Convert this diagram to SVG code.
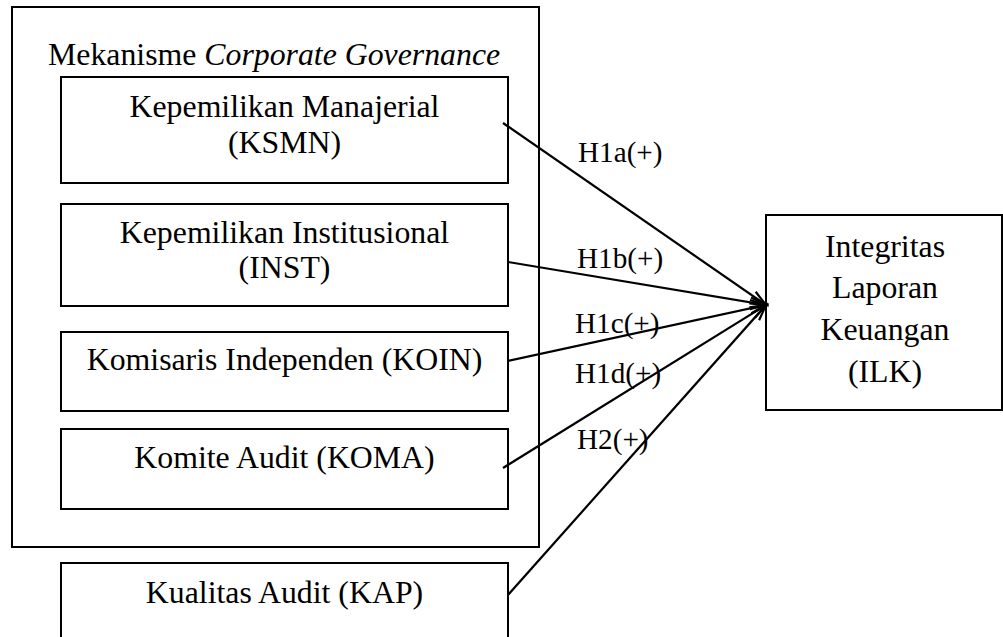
<svg xmlns="http://www.w3.org/2000/svg" width="1003" height="637" viewBox="0 0 1003 637">
<style>
.box{fill:none;stroke:#000;stroke-width:2}
.t{font-family:"Liberation Serif","Times New Roman",serif;font-size:31.8px;fill:#000}
.c{text-anchor:middle}
.lbl{font-family:"Liberation Serif","Times New Roman",serif;font-size:29.2px;fill:#000}
.con{stroke:#000;stroke-width:2.2;fill:none;marker-end:url(#ah)}
</style>
<defs>
<marker id="ah" markerUnits="userSpaceOnUse" markerWidth="20" markerHeight="14" refX="17" refY="6" orient="auto" viewBox="0 0 20 12">
<path d="M1,1 L17,6 L1,11" fill="none" stroke="#000" stroke-width="2.2"/>
</marker>
</defs>
<rect width="1003" height="637" fill="#fff"/>
<g id="mekanisme">
<rect class="box" x="12" y="7" width="527" height="540"/>
<text class="t" x="48" y="65">Mekanisme <tspan font-style="italic">Corporate Governance</tspan></text>
</g>
<g id="ksmn">
<rect class="box" x="61" y="77" width="447" height="106"/>
<text class="t c" x="284.5" y="117">Kepemilikan Manajerial</text>
<text class="t c" x="284.5" y="153">(KSMN)</text>
</g>
<g id="inst">
<rect class="box" x="61" y="204" width="447" height="102"/>
<text class="t c" x="284.5" y="243">Kepemilikan Institusional</text>
<text class="t c" x="284.5" y="278">(INST)</text>
</g>
<g id="koin">
<rect class="box" x="61" y="332" width="447" height="79"/>
<text class="t c" x="284.5" y="370">Komisaris Independen (KOIN)</text>
</g>
<g id="koma">
<rect class="box" x="61" y="429" width="447" height="80"/>
<text class="t c" x="284.5" y="468">Komite Audit (KOMA)</text>
</g>
<g id="kap">
<rect class="box" x="61" y="563" width="447" height="90"/>
<text class="t c" x="284.5" y="603">Kualitas Audit (KAP)</text>
</g>
<g id="ilk">
<rect class="box" x="766" y="215" width="236" height="195"/>
<text class="t c" x="885" y="257">Integritas</text>
<text class="t c" x="885" y="298">Laporan</text>
<text class="t c" x="885" y="340">Keuangan</text>
<text class="t c" x="885" y="382">(ILK)</text>
</g>
<g id="connectors">
<line class="con" x1="503" y1="123" x2="766" y2="305"/>
<line class="con" x1="508" y1="262" x2="766" y2="305"/>
<line class="con" x1="508" y1="361" x2="766" y2="305"/>
<line class="con" x1="503" y1="468" x2="766" y2="305"/>
<line class="con" x1="508" y1="595" x2="766" y2="305"/>
</g>
<g id="labels">
<text class="lbl" x="578" y="162">H1a(+)</text>
<text class="lbl" x="577" y="268">H1b(+)</text>
<text class="lbl" x="575" y="333">H1c(+)</text>
<text class="lbl" x="575" y="383">H1d(+)</text>
<text class="lbl" x="577" y="449">H2(+)</text>
</g>
</svg>
